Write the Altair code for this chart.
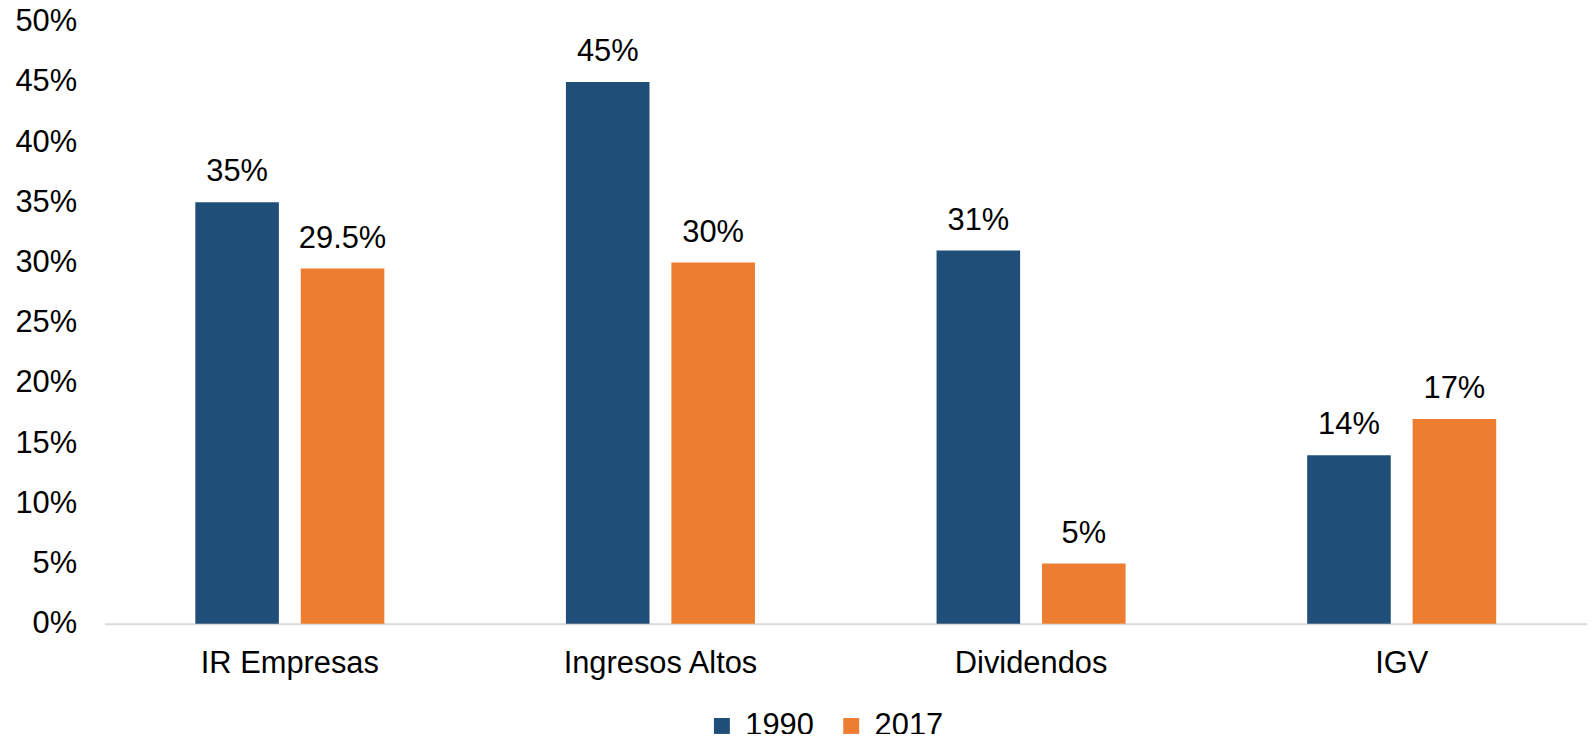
import altair as alt
import pandas as pd

categorias = ["IR Empresas", "Ingresos Altos", "Dividendos", "IGV"]
anios = ["1990", "2017"]
valores_1990 = [0.35, 0.45, 0.31, 0.14]
valores_2017 = [0.295, 0.30, 0.05, 0.17]
colores = ["#1F4E79", "#ED7D31"]
y_ticks = [0, 0.05, 0.10, 0.15, 0.20, 0.25, 0.30, 0.35, 0.40, 0.45, 0.50]

rows = []
for c, a, b in zip(categorias, valores_1990, valores_2017):
    rows.append({"categoria": c, "anio": "1990", "valor": a})
    rows.append({"categoria": c, "anio": "2017", "valor": b})
df = pd.DataFrame(rows)

FONT = "Liberation Sans"
FS = 31

base = alt.Chart(df).encode(
    x=alt.X(
        "categoria:N",
        sort=categorias,
        scale=alt.Scale(paddingInner=0.49, paddingOuter=0.245),
        axis=alt.Axis(
            title=None, labelAngle=0, ticks=False, domainColor="#D9D9D9",
            domainWidth=2, labelFontSize=FS, labelPadding=25, labelLimit=0,
            labelColor="#000000", labelFont=FONT,
        ),
    ),
    xOffset=alt.XOffset(
        "anio:N", sort=anios, scale=alt.Scale(paddingInner=0.2075, paddingOuter=0)
    ),
    y=alt.Y(
        "valor:Q",
        scale=alt.Scale(domain=[0, 0.5], nice=False),
        axis=alt.Axis(
            title=None, format=".0%", values=y_ticks, grid=False, domain=False,
            ticks=False, labelFontSize=FS, labelPadding=28,
            labelColor="#000000", labelFont=FONT,
        ),
    ),
)

bars = base.mark_bar().encode(
    color=alt.Color(
        "anio:N",
        sort=anios,
        scale=alt.Scale(domain=anios, range=colores),
        legend=alt.Legend(
            title=None, orient="none", direction="horizontal",
            legendX=605, legendY=692,
            labelFontSize=FS, labelFont=FONT, labelColor="#000000",
            symbolType="square", symbolSize=256, symbolStrokeWidth=0,
            symbolOpacity=1, columnPadding=22, labelOffset=8,
        ),
    )
)

text = base.mark_text(
    dy=-21, baseline="alphabetic", fontSize=FS, font=FONT, color="#000000"
).encode(text=alt.Text("valor:Q", format=".1~%"))

chart = (
    alt.layer(bars, text)
    .properties(
        width=1490,
        height=605,
        autosize=alt.AutoSizeParams(type="none"),
        padding={"left": 97, "top": 12, "right": 0, "bottom": 109},
    )
    .configure_view(stroke=None)
)

chart.save("out.html", embed_options={"renderer": "svg", "actions": False})
